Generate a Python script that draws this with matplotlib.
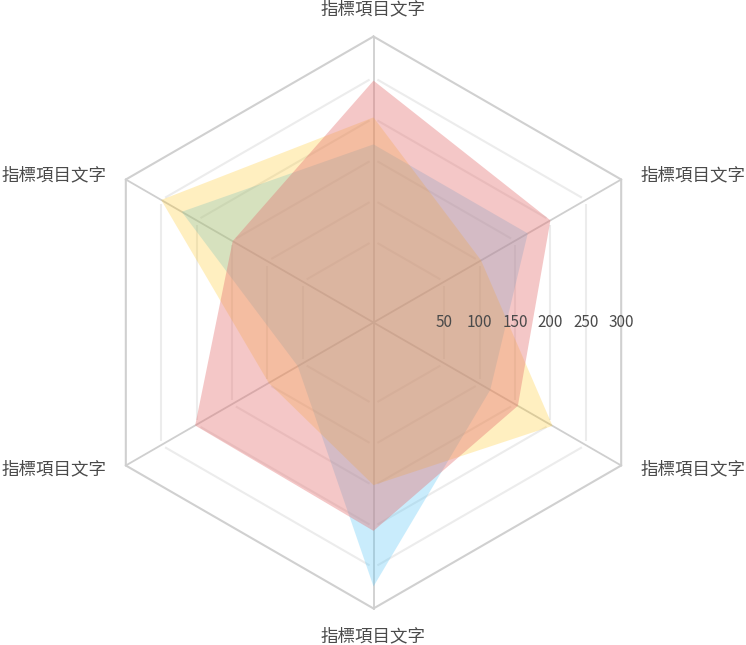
import numpy as np
import matplotlib.pyplot as plt

plt.rcParams['font.family'] = ['Noto Sans CJK TC', 'DejaVu Sans']

# data (order: top, then clockwise)
categories = ['指標項目文字', '指標項目文字', '指標項目文字',
              '指標項目文字', '指標項目文字', '指標項目文字']
tick_values = [50, 100, 150, 200, 250, 300]
r_min, r_max = -50, 300

blue_values = [168, 168, 115, 273, 57, 221]
red_values = [246, 200, 154, 205, 202, 149]
yellow_values = [201, 102, 203, 149, 98, 250]

# drawn in this order: blue at the bottom, red on top
series = [
    (blue_values, '#4fc3f7', 0.30),
    (yellow_values, '#ffc107', 0.25),
    (red_values, '#e57373', 0.40),
]

angles = np.deg2rad(90 - 60 * np.arange(len(categories)))


def to_xy(values):
    r = np.asarray(values, dtype=float) - r_min
    return r * np.cos(angles), r * np.sin(angles)


W, H = 746, 645
fig = plt.figure(figsize=(W / 100, H / 100), dpi=100)
ax = fig.add_axes([0, 0, 1, 1])
ax.axis('off')

# data units per pixel; center of the chart in pixels
scale = (r_max - r_min) / 286
cx, cy = 373.5, 322.5
ax.set_xlim(-cx * scale, (W - cx) * scale)
ax.set_ylim(-(H - cy) * scale, cy * scale)

# inner rings, drawn as separate edges with small gaps at the corners
gap = 4.5 * scale
n = len(categories)
for t in tick_values[:-1]:
    x, y = to_xy([t] * n)
    for i in range(n):
        x0, y0 = x[i], y[i]
        x1, y1 = x[(i + 1) % n], y[(i + 1) % n]
        length = np.hypot(x1 - x0, y1 - y0)
        ux, uy = (x1 - x0) / length, (y1 - y0) / length
        ax.plot([x0 + ux * gap, x1 - ux * gap], [y0 + uy * gap, y1 - uy * gap],
                color='#ececec', lw=1.5, solid_capstyle='butt', zorder=1)

# outer ring
x, y = to_xy([r_max] * n)
ax.plot(np.append(x, x[0]), np.append(y, y[0]), color='#d0d0d0', lw=1.5,
        solid_joinstyle='miter', zorder=1)

# spokes
for xi, yi in zip(x, y):
    ax.plot([0, xi], [0, yi], color='#cfcfcf', lw=1.3, zorder=1)

# series
for values, color, alpha in series:
    px, py = to_xy(values)
    ax.fill(px, py, color=color, alpha=alpha, lw=0, zorder=2)

# radial tick labels along the horizontal
for t in tick_values:
    ax.text((t - r_min) * np.cos(np.deg2rad(30)), 0, str(t),
            ha='center', va='center', fontsize=11, color='#4a4a4a', zorder=3)

# category labels
offsets = [(0, 27), (19, 4), (19, -4), (0, -28), (-19, -4), (-19, 4)]
aligns = ['center', 'left', 'left', 'center', 'right', 'right']
for label, xi, yi, off, ha in zip(categories, x, y, offsets, aligns):
    ax.annotate(label, (xi, yi), xytext=off, textcoords='offset pixels',
                ha=ha, va='center', fontsize=12.6, color='#4a4a4a')

fig.savefig('out.png', dpi=100)
